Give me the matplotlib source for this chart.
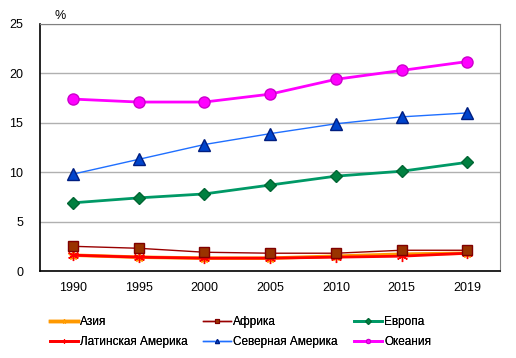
import matplotlib
matplotlib.use("Agg")
import matplotlib.pyplot as plt
from matplotlib.lines import Line2D

plt.rcParams["font.family"] = ["Liberation Sans", "DejaVu Sans"]

YEARS = ["1990", "1995", "2000", "2005", "2010", "2015", "2019"]
ASIA = [1.6, 1.4, 1.3, 1.3, 1.5, 1.7, 1.8]
AFRICA = [2.5, 2.3, 1.9, 1.8, 1.8, 2.1, 2.1]
EUROPE = [6.9, 7.4, 7.8, 8.7, 9.6, 10.1, 11.0]
LATAM = [1.6, 1.4, 1.3, 1.3, 1.4, 1.5, 1.8]
NAMERICA = [9.8, 11.3, 12.8, 13.9, 14.9, 15.6, 16.0]
OCEANIA = [17.4, 17.1, 17.1, 17.9, 19.4, 20.3, 21.2]

ASTERISK = (6, 2, 0)

# label, values, line colour, line width, marker, marker size, face, edge, z
SERIES = [
    ("Азия", ASIA, "#FF9900", 2.5, "*", 8, "#FFCC00", "#FF9900", 3),
    ("Африка", AFRICA, "#990000", 1.0, "s", 7, "#993300", "#800000", 5),
    ("Европа", EUROPE, "#009966", 2.0, "D", 6, "#008040", "#006633", 3),
    ("Латинская Америка", LATAM, "#FF0000", 2.0, ASTERISK, 8, "#FF0000", "#FF0000", 4),
    ("Северная Америка", NAMERICA, "#1F6FFF", 1.0, "^", 8, "#0044CC", "#001E80", 3),
    ("Океания", OCEANIA, "#FF00FF", 2.0, "o", 8, "#FF00FF", "#CC00CC", 3),
]

fig = plt.figure(figsize=(5.16, 3.58), dpi=100)
ax = fig.add_axes([0.0775, 0.243, 0.892, 0.69])

x = list(range(len(YEARS)))
handles = []
for label, vals, col, lw, mk, ms, fc, ec, z in SERIES:
    ax.plot(x, vals, color=col, lw=lw, marker=mk, ms=ms, mfc=fc, mec=ec,
            mew=1.0, zorder=z)
    handles.append(Line2D([0], [0], color=col, lw=lw, marker=mk, ms=3,
                          mfc=fc, mec=ec, mew=0.8, label=label))

ax.set_xlim(-0.5, len(YEARS) - 0.5)
ax.set_ylim(0, 25)
ax.set_yticks(range(0, 26, 5))
ax.set_xticks(x)
ax.set_xticklabels(YEARS)
ax.tick_params(length=0, labelsize=9, pad=8)
ax.tick_params(axis="y", pad=12)
ax.yaxis.grid(True, color="#B0B0B0", lw=1)
ax.set_axisbelow(True)
for s in ("top", "right"):
    ax.spines[s].set_color("#808080")
for s in ("left", "bottom"):
    ax.spines[s].set_color("black")
    ax.spines[s].set_linewidth(1.2)

fig.text(0.105, 0.955, "%", fontsize=9, va="center")

# three legend columns, each holding one row-pair (top row, bottom row)
col_x = [50 / 516, 203 / 516, 354 / 516]
for i, cx in enumerate(col_x):
    leg = fig.legend(handles=[handles[i], handles[i + 3]], loc="upper left",
                     bbox_to_anchor=(cx, 0.117), frameon=False, fontsize=8.5,
                     handlelength=2.4, handletextpad=0.15, labelspacing=0.7,
                     borderpad=0, borderaxespad=0)
    fig.add_artist(leg)

fig.savefig("out.png", dpi=100)
